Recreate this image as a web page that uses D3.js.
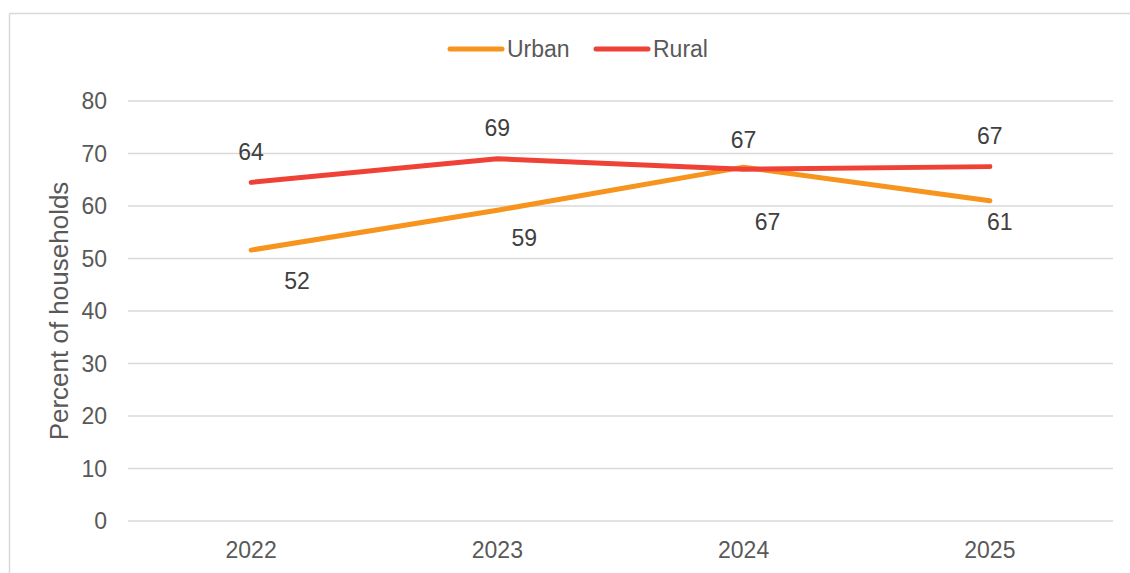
<!DOCTYPE html>
<html>
<head>
<meta charset="utf-8">
<script src="https://cdn.jsdelivr.net/npm/d3@7"></script>
<style>
    body { margin: 0; background: #fff; }
    text { font-family: "Liberation Sans", Arial, sans-serif; }
</style>
</head>
<body>
<svg id="chart" width="1130" height="573"></svg>
<script>
const years = ["2022", "2023", "2024", "2025"];
const urban = [51.6, 59.2, 67.4, 61.0];
const rural = [64.5, 69.0, 67.0, 67.5];
const urbanLabels = ["52", "59", "67", "61"];
const ruralLabels = ["64", "69", "67", "67"];
const yTicks = [0, 10, 20, 30, 40, 50, 60, 70, 80];

// label nudges (pixels) copied from the original placement
const urbanNudge = [[46, 31], [27, 28], [24, 55], [10, 21]];
const ruralNudge = [[0, -30], [0, -31], [0, -29], [0, -31]];

const series = [
    {name: "Urban", values: urban, labels: urbanLabels, nudge: urbanNudge, color: "#F7941D"},
    {name: "Rural", values: rural, labels: ruralLabels, nudge: ruralNudge, color: "#EF4136"}
];

var svg = d3.select("#chart");
var margin = {left: 128, right: 1113, top: 101, bottom: 521};

// outer frame (only top and left edges show in the crop)
svg.append("line").attr("x1", 9.5).attr("y1", 13.5).attr("x2", 1130).attr("y2", 13.5)
    .attr("stroke", "#d9d9d9").attr("stroke-width", 1.5);
svg.append("line").attr("x1", 9.5).attr("y1", 13.5).attr("x2", 9.5).attr("y2", 573)
    .attr("stroke", "#d9d9d9").attr("stroke-width", 1.5);

var x = d3.scaleBand().domain(years).range([margin.left, margin.right]);
var y = d3.scaleLinear().domain([0, 80]).range([margin.bottom, margin.top]);

// gridlines
svg.append("g")
    .selectAll("line")
    .data(yTicks)
    .enter().append("line")
    .attr("x1", margin.left)
    .attr("x2", margin.right)
    .attr("y1", d => y(d))
    .attr("y2", d => y(d))
    .attr("stroke", "#d9d9d9")
    .attr("stroke-width", 1.5);

// y tick labels
svg.append("g")
    .selectAll("text")
    .data(yTicks)
    .enter().append("text")
    .attr("x", 107)
    .attr("y", d => y(d))
    .attr("dy", "0.35em")
    .attr("text-anchor", "end")
    .attr("fill", "#595959")
    .style("font-size", "23px")
    .text(d => d);

// x tick labels
svg.append("g")
    .selectAll("text")
    .data(years)
    .enter().append("text")
    .attr("x", d => x(d) + x.bandwidth() / 2)
    .attr("y", 550)
    .attr("dy", "0.35em")
    .attr("text-anchor", "middle")
    .attr("fill", "#595959")
    .style("font-size", "23px")
    .text(d => d);

// y axis title
svg.append("text")
    .attr("transform", "translate(68," + ((margin.top + margin.bottom) / 2) + ") rotate(-90)")
    .attr("text-anchor", "middle")
    .attr("fill", "#595959")
    .style("font-size", "26px")
    .text("Percent of households");

var line = d3.line()
    .x((d, i) => x(years[i]) + x.bandwidth() / 2)
    .y(d => y(d));

series.forEach(s => {
    svg.append("path")
        .datum(s.values)
        .attr("d", line)
        .attr("fill", "none")
        .attr("stroke", s.color)
        .attr("stroke-width", 5)
        .attr("stroke-linecap", "round")
        .attr("stroke-linejoin", "round");
});

// data labels
series.forEach(s => {
    svg.append("g")
        .selectAll("text")
        .data(s.values)
        .enter().append("text")
        .attr("x", (d, i) => x(years[i]) + x.bandwidth() / 2 + s.nudge[i][0])
        .attr("y", (d, i) => y(d) + s.nudge[i][1])
        .attr("dy", "0.35em")
        .attr("text-anchor", "middle")
        .attr("fill", "#404040")
        .style("font-size", "23px")
        .text((d, i) => s.labels[i]);
});

// legend
var legendX = [448, 594];
var legend = svg.selectAll("g.legend")
    .data(series)
    .enter().append("g")
    .attr("class", "legend")
    .attr("transform", (d, i) => "translate(" + legendX[i] + ",49)");

legend.append("line")
    .attr("x1", 2).attr("x2", 54)
    .attr("y1", 0).attr("y2", 0)
    .attr("stroke", d => d.color)
    .attr("stroke-width", 5)
    .attr("stroke-linecap", "round");

legend.append("text")
    .attr("x", 59)
    .attr("y", 0)
    .attr("dy", "0.35em")
    .attr("fill", "#595959")
    .style("font-size", "23px")
    .text(d => d.name);
</script>
</body>
</html>
